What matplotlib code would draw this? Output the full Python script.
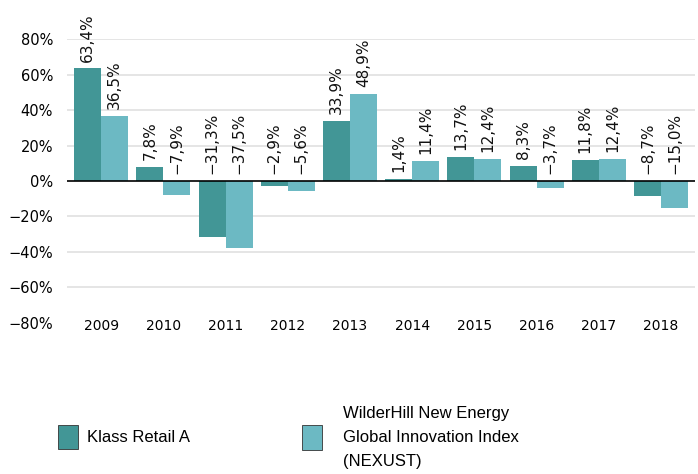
import matplotlib
matplotlib.use("Agg")
import matplotlib.pyplot as plt
import numpy as np

years = ['2009', '2010', '2011', '2012', '2013', '2014', '2015', '2016', '2017', '2018']
klass = [63.4, 7.8, -31.3, -2.9, 33.9, 1.4, 13.7, 8.3, 11.8, -8.7]
nexust = [36.5, -7.9, -37.5, -5.6, 48.9, 11.4, 12.4, -3.7, 12.4, -15.0]
series_names = ['Klass Retail A', 'WilderHill New Energy\nGlobal Innovation Index\n(NEXUST)']
yticks = [-80, -60, -40, -20, 0, 20, 40, 60, 80]

c_dark = '#429696'
c_light = '#6cb9c3'

def fmt(v):
    s = ('%.1f' % v).replace('.', ',').replace('-', '\u2212')
    return s + '%'

fig = plt.figure(figsize=(6.98, 4.74), dpi=100)
ax = fig.add_axes([0.096, 0.3186, 0.9, 0.5991])

x = np.arange(len(years))
w = 0.435
b1 = ax.bar(x - w/2, klass, w, color=c_dark, zorder=2)
b2 = ax.bar(x + w/2, nexust, w, color=c_light, zorder=2)

for bars, vals in ((b1, klass), (b2, nexust)):
    for rect, v in zip(bars, vals):
        base = max(v, 0)
        ax.annotate(fmt(v), (rect.get_x() + rect.get_width()/2, base),
                    xytext=(0, 5), textcoords='offset points',
                    rotation=90, ha='center', va='bottom',
                    fontsize=11, color='#111111', annotation_clip=False)

for t in yticks[1:]:
    if t != 0:
        ax.axhline(t, color='#e3e3e3', lw=1.3, zorder=0)
ax.axhline(0, color='black', lw=1.2, zorder=3)

ax.set_ylim(-80, 80)
ax.set_xlim(-0.55, 9.55)
ax.set_yticks(yticks)
ax.set_yticklabels([('%d%%' % t).replace('-', '\u2212') for t in yticks], fontsize=10.5)
ax.set_xticks(x)
ax.set_xticklabels(years, fontsize=10)
ax.tick_params(axis='y', length=0, pad=10)
ax.tick_params(axis='x', length=0, pad=-3)
for s in ax.spines.values():
    s.set_visible(False)

# two separate legend boxes, like the reference layout
for handle, name, xpos, tpad in ((b1, series_names[0], 0.083, 0.55),
                                 (b2, series_names[1], 0.433, 1.25)):
    leg = fig.legend([handle], [name], loc='center left',
                     bbox_to_anchor=(xpos, 0.078), frameon=False,
                     prop={'family': 'Liberation Sans', 'size': 12},
                     handlelength=1.2, handleheight=1.9, handletextpad=tpad,
                     borderpad=0, borderaxespad=0)
    for h in leg.legend_handles:
        h.set_edgecolor('#333333')
        h.set_linewidth(0.6)
    leg.get_texts()[0].set_linespacing(1.75)

fig.savefig('out.png', dpi=100)
